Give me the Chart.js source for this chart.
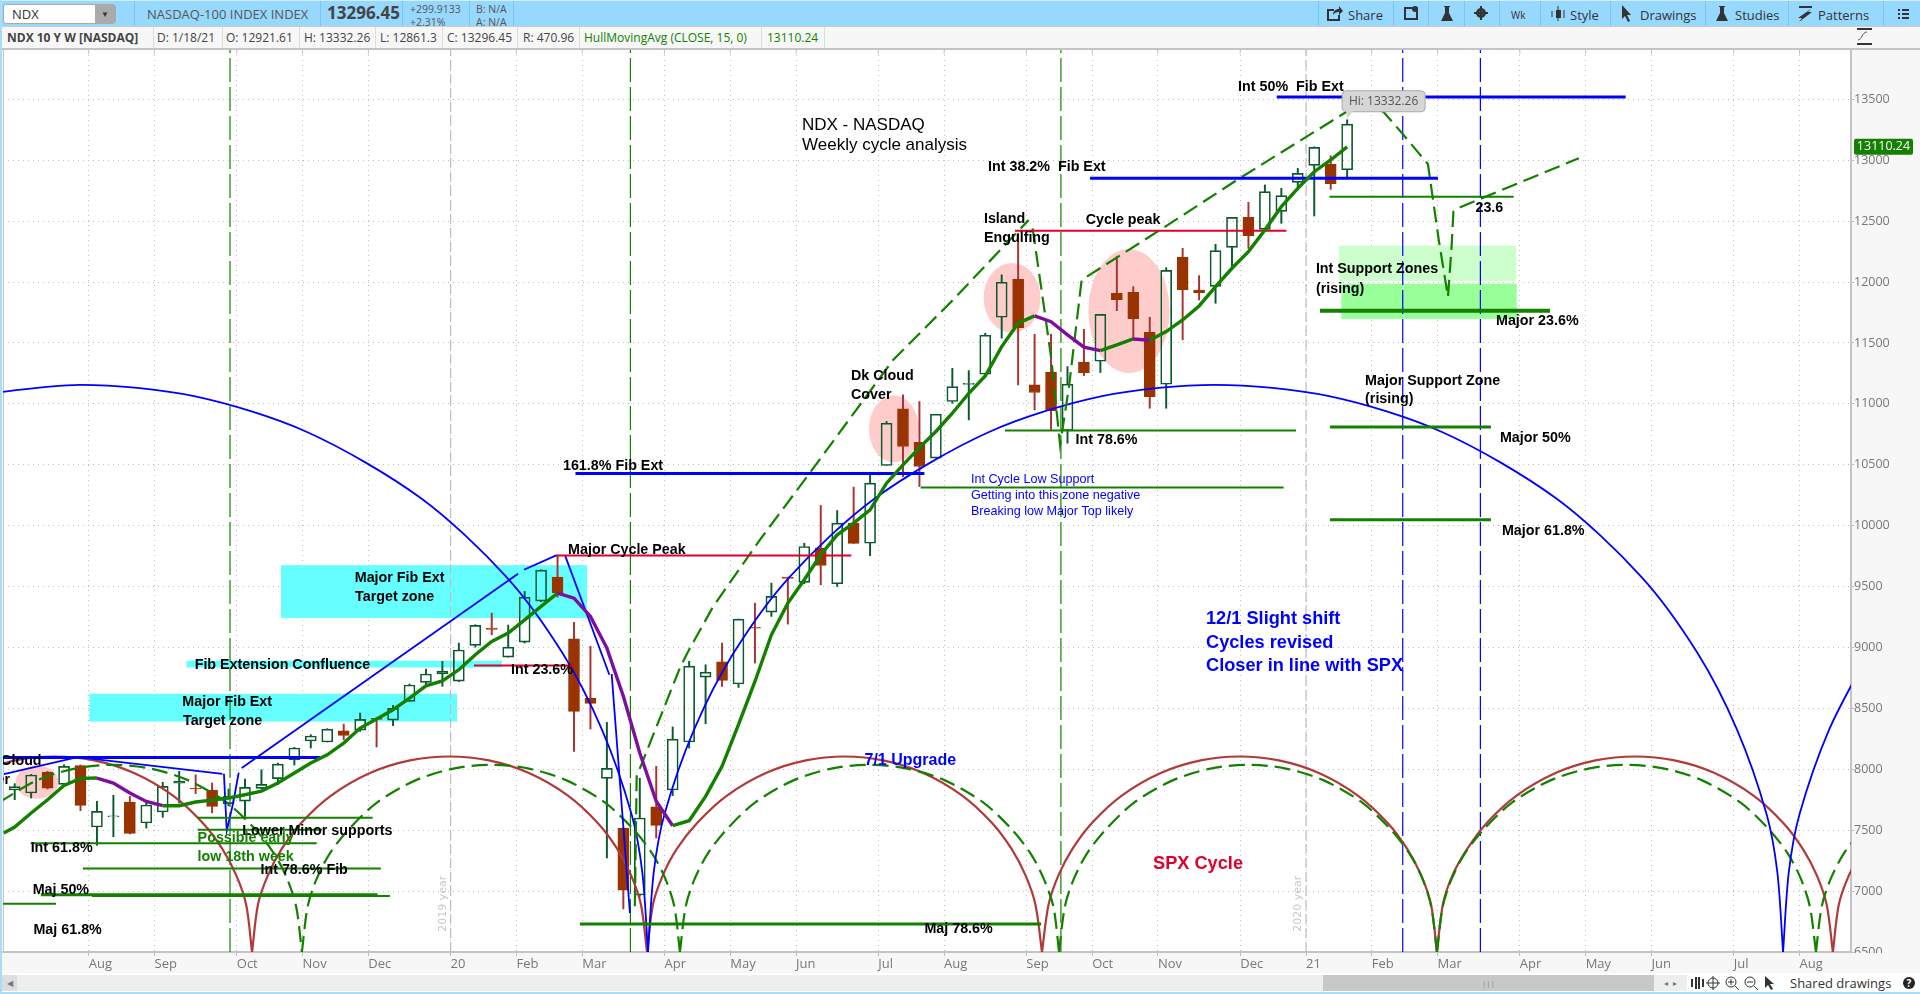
<!DOCTYPE html>
<html>
<head>
<meta charset="utf-8">
<title>NDX weekly cycle analysis</title>
<script src="https://cdn.jsdelivr.net/npm/chart.js@4/dist/chart.umd.min.js"></script>
<style>
  html, body { margin: 0; padding: 0; background: #f7f7f7; overflow: hidden; }
  #wrap { position: relative; width: 1920px; height: 994px; overflow: hidden; font-family: "Open Sans", sans-serif; }
  canvas { position: absolute; left: 0; top: 0; }
  .bar { position: absolute; left: 0; width: 1920px; }
  #top { top: 0; height: 26px; background: #97d8ff; border-top: 1px solid #d2eeff; box-sizing: border-box; }
  #info { top: 26px; height: 24px; background: #f7f7f7; border-top: 1px solid #ccc; border-bottom: 2px solid #c4c4c4; box-sizing: border-box; }
  .t { position: absolute; white-space: nowrap; color: #555; font-size: 13px; line-height: 16px; }
  .sep { position: absolute; width: 1px; top: 0; bottom: 0; background: #7fc6ef; }
  #info .sep { background: #ddd; }
  #info .t { font-size: 12px; top: 3px; color: #444; }
  #tools .t { color: #333; top: 6px; font-size: 13px; }
  #scroll { position: absolute; left: 0; top: 973px; width: 1920px; height: 21px; background: #fff; }
  .frame { position: absolute; background: #a9dcf8; }
  .ic { position: absolute; }
</style>
</head>
<body>
<div id="wrap">
  <canvas id="chart" width="1920" height="994"></canvas>

  <div class="bar" id="top">
    <div style="position:absolute;left:3px;top:3px;width:113px;height:20px;background:#fff;border:1px solid #aaa;border-radius:3px;box-sizing:border-box">
      <span class="t" style="left:8px;top:1px;color:#333">NDX</span>
      <div style="position:absolute;right:0;top:0;width:20px;height:18px;background:#aaa;color:#333;font-size:8px;text-align:center;line-height:18px">&#9660;</div>
    </div>
    <span class="t" style="left:147px;top:5px">NASDAQ-100 INDEX INDEX</span>
    <div class="sep" style="left:134px"></div>
    <div class="sep" style="left:320px"></div>
    <span class="t" style="left:327px;top:4px;font-size:17px;font-weight:700;color:#444">13296.45</span>
    <div class="sep" style="left:402px"></div>
    <span class="t" style="left:410px;top:2px;font-size:10.5px;line-height:13px">+299.9133<br>+2.31%</span>
    <div class="sep" style="left:469px"></div>
    <span class="t" style="left:476px;top:2px;font-size:10.5px;line-height:13px">B: N/A<br>A: N/A</span>
    <div class="sep" style="left:513px"></div>
    <div id="tools"></div>
  </div>

  <div class="bar" id="info"></div>

  <div style="position:absolute;left:1852px;top:953px;width:68px;height:8px;background:#f7f7f7"></div>
  <svg class="ic" style="left:1857px;top:28px" width="16" height="18" viewBox="0 0 16 18"><path d="M0 1h15M0 16h15" stroke="#333" stroke-width="2"/><path d="M1 12c4 0 4-8 9-8" stroke="#555" fill="none"/></svg>

  <div id="scroll">
    <div style="position:absolute;left:0;top:2px;width:1654px;height:16px;background:#eee"></div>
    <div style="position:absolute;left:2px;top:2px;width:15px;height:16px;background:#ddd;color:#777;font-size:8px;line-height:16px;text-align:center">&#9664;</div>
    <div style="position:absolute;left:1323px;top:2px;width:331px;height:16px;background:#c8c8c8;color:#888;font-size:8px;line-height:16px;text-align:center">|||</div>
    <div style="position:absolute;left:1654px;top:2px;width:33px;height:16px;background:#eee;color:#777;font-size:8px;line-height:16px;text-align:center">&#9666; &nbsp;&#9656;</div>
    <svg class="ic" style="left:1690px;top:2px" width="96" height="16" viewBox="0 0 96 16">
      <path d="M2 4v8M6 2v12M9 2v12M13 4v8" stroke="#333" stroke-width="2"/>
      <circle cx="23" cy="8" r="5" fill="none" stroke="#333"/><path d="M23 1v14M16 8h14" stroke="#333"/>
      <circle cx="41" cy="7" r="5" fill="none" stroke="#333"/><path d="M45 11l4 4M38 7h6M41 4v6" stroke="#333"/>
      <circle cx="60" cy="7" r="5" fill="none" stroke="#333"/><path d="M64 11l4 4M57 7h6" stroke="#333"/>
      <path d="M75 1l0 12 3-3 3 5 2-1-3-5 4 0z" fill="#333"/>
    </svg>
    <span class="t" style="left:1790px;top:2px;color:#333">Shared drawings</span>
    <div style="position:absolute;left:1903px;top:4px;width:12px;height:12px;border-radius:6px;background:#222;color:#fff;font-size:10px;line-height:12px;text-align:center;font-weight:700">?</div>
  </div>

  <div class="frame" style="left:0;top:0;width:2px;height:994px"></div>
  <div class="frame" style="left:0;top:992px;width:1920px;height:2px"></div>
</div>

<script>
// bar 0 is the week of 7/22/19, bar 81 is 1/18/21, x axis counts weeks
const opens = [7830,7805,7978,7876,8030,7526,7611,7731,7559,7649,7885,7844,7830,7718,7738,7843,7923,8079,8232,8224,
  8316,8322,8418,8404,8557,8713,8782,8724,9017,9159,8921,9044,9381,9578,9072,8585,7926,7518,6968,7691,
  7830,8224,8757,8883,8700,9165,9290,9578,9534,9815,9523,10021,9856,10494,10959,10685,10554,11019,11160,11243,
  11711,12025,11156,11260,10781,11342,11350,11908,11916,11588,11161,12203,11935,11965,12285,12531,12433,12580,12818,12958,
  12966,12921.61];
const highs = [7882,7958,7983,8038,8035,7737,7786,7778,7745,7893,7983,7955,7887,7838,7920,7996,8051,8180,8284,8333,
  8371,8462,8420,8525,8700,8823,8886,9036,9187,9282,9184,9460,9638,9758,9206,9009,8385,7518,7926,8024,
  8347,8886,8858,9036,9233,9364,9528,9578,9856,10166,10124,10316,10431,10855,11074,11019,10915,11292,11273,11580,
  12059,12400,11571,11572,11306,11612,11735,12209,11962,11711,12118,12277,12053,12310,12531,12654,12797,12769,12933,13110,
  13037,13332.26];
const lows = [7750,7764,7838,7870,7660,7376,7447,7469,7518,7606,7723,7800,7643,7700,7613,7840,7874,8035,8175,8224,
  8243,8311,8183,8358,8557,8700,8681,8719,9003,9104,8921,9036,9375,9414,8147,8330,7272,6854,6957,7436,
  7784,8174,8374,8680,8672,8872,9255,9192,9523,9515,9501,9854,9753,10494,10403,10321,10554,11005,10868,11243,
  11539,11156,10950,10781,10677,11232,11257,11765,11525,10964,10964,11525,11853,11826,12127,12277,12427,12482,12756,12542,
  12761,12861.3];
const closes = [7857,7953,7844,8024,7704,7655,7617,7474,7707,7860,7904,7838,7696,7778,7851,7876,8043,8175,8273,8330,
  8278,8410,8410,8500,8692,8782,8806,8979,9181,9148,9003,9414,9635,9449,8475,8541,8008,7007,7600,7540,
  8248,8847,8798,8730,9233,9159,9419,9567,9829,9673,10021,9854,10349,10841,10650,10486,10915,11142,11168,11563,
  11998,11626,11093,10945,11162,11257,11735,11856,11700,11060,12096,11938,11913,12258,12531,12381,12742,12709,12892,13106,
  12808,13296.45];

// hull moving average, falling stretches get coloured purple
const hullLead = [-0.66, 7477];
const hull = [7526,7641,7750,7868,7925,7928,7887,7805,7736,7701,7701,7731,7747,7764,7791,7821,7887,7969,8051,8119,
  8215,8338,8412,8489,8584,8685,8726,8817,8940,9049,9118,9227,9337,9446,9405,9255,8995,8599,8134,7737,
  7537,7578,7778,8024,8366,8721,9104,9364,9556,9761,9925,10021,10130,10349,10499,10641,10773,10923,11087,11229,
  11470,11662,11722,11675,11566,11465,11437,11484,11533,11522,11593,11689,11804,11962,12113,12250,12427,12619,12769,12906,
  13002,13110.24];

const priceTicks = [6500,7000,7500,8000,8500,9000,9500,10000,10500,11000,11500,12000,12500,13000,13500];
const monthTicks = [4.5,8.5,13.5,17.5,21.5,26.5,30.5,34.5,39.5,43.5,47.5,52.5,56.5,61.5,65.5,69.5,74.5,78.5,82.5,86.5,91.5,95.5,99.5,104.5,108.5];
const monthLabels = ['Aug','Sep','Oct','Nov','Dec','20','Feb','Mar','Apr','May','Jun','Jul','Aug','Sep','Oct','Nov','Dec','21','Feb','Mar','Apr','May','Jun','Jul','Aug'];

// cycle arcs, [week, price]
const redArcs = [
  [[-2.38,7971],[0.02,8073],[2.42,8105],[4.82,8073],[7.22,7971],[9.62,7784],[11.42,7561],[12.62,7346],[13.47,7129],[14.07,6890],[14.43,6500]],
  [[14.43,6500],[14.79,6890],[15.39,7129],[16.23,7346],[17.43,7561],[19.23,7784],[21.63,7971],[24.03,8073],[26.43,8105],[28.83,8073],[31.23,7971],[33.63,7784],[35.43,7561],[36.63,7346],[37.47,7129],[38.07,6890],[38.44,6500]],
  [[38.44,6500],[38.8,6890],[39.4,7129],[40.25,7346],[41.5,7561],[43.3,7784],[45.7,7971],[48.1,8073],[50.45,8105],[52.8,8073],[55.2,7971],[57.6,7784],[59.4,7561],[60.6,7346],[61.45,7129],[62.05,6890],[62.45,6500]],
  [[62.45,6500],[62.85,6890],[63.45,7129],[64.3,7346],[65.5,7561],[67.3,7784],[69.7,7971],[72.1,8073],[74.45,8105],[76.85,8073],[79.25,7971],[81.65,7784],[83.45,7561],[84.65,7346],[85.5,7129],[86.1,6890],[86.46,6500]],
  [[86.46,6500],[86.82,6890],[87.4,7129],[88.3,7346],[89.5,7561],[91.3,7784],[93.7,7971],[96.1,8073],[98.5,8105],[100.9,8073],[103.3,7971],[105.7,7784],[107.5,7561],[108.7,7346],[109.55,7129],[110.15,6890],[110.53,6500]],
  [[110.53,6500],[110.89,6890],[111.5,7129],[112.35,7346]]
];
const greenArcs = [
  [[-0.94,7730],[1.36,7909],[3.66,8006],[5.96,8037],[8.26,8006],[10.56,7909],[12.86,7730],[14.56,7516],[15.76,7310],[16.56,7102],[17.11,6873],[17.46,6500]],
  [[17.46,6500],[17.81,6873],[18.36,7102],[19.16,7310],[20.36,7516],[22.06,7730],[24.36,7909],[26.66,8006],[28.95,8037],[31.25,8006],[33.55,7909],[35.85,7730],[37.55,7516],[38.75,7310],[39.55,7102],[40.1,6873],[40.44,6500]],
  [[40.44,6500],[40.79,6873],[41.34,7102],[42.14,7310],[43.34,7516],[45.04,7730],[47.34,7909],[49.64,8006],[51.95,8037],[54.25,8006],[56.55,7909],[58.85,7730],[60.55,7516],[61.75,7310],[62.55,7102],[63.14,6873],[63.49,6500]],
  [[63.49,6500],[63.84,6873],[64.39,7102],[65.19,7310],[66.39,7516],[68.09,7730],[70.39,7909],[72.69,8006],[74.98,8037],[77.28,8006],[79.58,7909],[81.88,7730],[83.58,7516],[84.78,7310],[85.58,7102],[86.11,6873],[86.46,6500]],
  [[86.46,6500],[86.81,6873],[87.36,7102],[88.16,7310],[89.36,7516],[91.06,7730],[93.36,7909],[95.66,8006],[97.98,8037],[100.28,8006],[102.58,7909],[104.88,7730],[106.58,7516],[107.78,7310],[108.58,7102],[109.13,6873],[109.5,6500]],
  [[109.5,6500],[109.85,6873],[110.4,7102],[111.2,7310],[112.4,7516]]
];
const blueArcs = [
  [[-2.9,11063],[4,11156],[10.9,11063],[17.8,10767],[24.7,10225],[29.9,9578],[33.3,8954],[35.7,8325],[37.5,7631],[38.15,7157],[38.5,6500]],
  [[38.5,6500],[38.85,7157],[39.5,7631],[41.3,8325],[43.7,8954],[47.1,9578],[52.3,10225],[59.2,10767],[66.1,11063],[73,11156],[79.9,11063],[86.8,10767],[93.7,10225],[98.9,9578],[102.3,8954],[104.7,8325],[106.5,7631],[107.15,7157],[107.5,6500]],
  [[107.5,6500],[107.85,7157],[108.5,7631],[110.3,8325],[112.7,8954]]
];

// hand drawn paths
const bluePaths = [
  [[-0.65,7961],[3.82,8100],[12.63,7963]],
  [[12.72,7963],[12.89,7496],[13.27,7717],[13.62,7972]],
  [[13.8,8010],[30.6,9605]],
  [[30.96,9638],[32.95,9758]],
  [[33.45,9758],[36.15,8776]],
  [[36.29,8782],[37.4,6820]]
];
const forecastPath = [[37.7,6875],[37.81,7941],[40.44,8833],[40.93,8965],[42.45,9334],[45.3,9884],[48.16,10401],[53.4,11361],[57.04,11853],[61.64,12510]];
const forecastPath2 = [[61.88,12441],[62.51,11853],[63,11385],[63.55,10663],[64.09,11139],[64.86,12017],[69.62,12427],[74.49,12854],[80.97,13398],[82,13470],[83.2,13398],[84.33,13223],[85.91,12969],[86.57,12346],[87.13,11880],[87.35,12290],[87.46,12578],[87.74,12607],[95.08,13016]];

// level lines, [from week, to week, price]
const blueLevels = [[-0.71,18.56,8097],[34.09,55.3,10428],[65.37,86.52,12852],[76.72,97.93,13519]];
const redLevels = [[32.95,50.86,9755],[27.92,34,8852],[60.81,77.31,12422]];
const greenLevels = [[11.12,21.76,7602],[11.12,18.68,7504],[0.97,18.36,7392],[4.15,22.26,7186],[4.7,22.81,6960],[-0.71,2.51,6897],[60.2,77.89,10781],[55.08,77.14,10313],[79.93,91.12,12701]];
const greenHeavyLevels = [[1.59,22.06,6970],[34.36,62.4,6730],[79.96,89.74,10811],[79.96,89.74,10048]];
const majorLevel = [[79.35,93.33,11765]];

const greenCycleWeeks = [13.09,37.43,63.6];
const blueCycleWeeks = [84.38,89.1];
const yearWeeks = [26.5,78.5];

// zones, [from week, to week, top price, bottom price]
const cyanZones = [[4.54,26.89,8620,8392],[10.44,29.62,8891,8836],[16.19,34.79,9676,9241]];
const lightGreenZone = [80.5,91.27,12299,12009];
const greenZone = [80.65,91.31,11987,11697];
// pink patterns, [week, half width, price, half height]
const pinkEllipses = [[1.36,1.3,7895,137],[53.45,1.52,10795,275],[60.63,1.73,11870,287],[67.74,2.47,11763,509]];

const blackNotes = [
  ['Dark Cloud',-3,8064],['Cover',-2.75,7908],['Int 61.8%',0.97,7356],['Maj 50%',1.09,7011],['Maj 61.8%',1.14,6683],
  ['Major Fib Ext',10.19,8554],['Target zone',10.23,8398],['Fib Extension Confluence',10.94,8858],['Int 23.6%',30.17,8811],
  ['Lower Minor supports',13.84,7493],['Int 78.6% Fib',14.94,7176],['Major Fib Ext',20.67,9572],['Target zone',20.69,9413],
  ['Major Cycle Peak',33.64,9802],['Dk Cloud',50.84,11229],['Cover',50.84,11073],['Island',58.92,12515],['Engulfing',58.92,12359],
  ['Cycle peak',65.11,12510],['Int 78.6%',64.49,10704],['161.8% Fib Ext',33.33,10487],['Int 38.2%  Fib Ext',59.17,12944],
  ['Int 50%  Fib Ext',74.37,13601],['23.6',88.8,12606],['Int Support Zones',79.1,12105],['(rising)',79.1,11946],
  ['Major 23.6%',90.05,11681],['Major Support Zone',82.09,11188],['(rising)',82.09,11041],['Major 50%',90.29,10717],['Major 61.8%',90.41,9954],
  ['Maj 78.6%',55.3,6687]
];
const greenNotes = [['Possible early',11.12,7436],['low 18th week',11.12,7280]];
const titleNotes = [['NDX - NASDAQ',47.86,13289],['Weekly cycle analysis',47.86,13119]];
const smallBlueNotes = [['Int Cycle Low Support',58.13,10382],['Getting into this zone negative',58.13,10247],['Breaking low Major Top likely',58.13,10116]];
const blueNotes = [['12/1 Slight shift',72.42,9230],['Cycles revised',72.42,9038],['Closer in line with SPX',72.42,8850]];
const upgradeNote = [['7/1 Upgrade',51.66,8073]];
const spxNote = [['SPX Cycle',69.2,7220]];
const yearNotes = [['2019 year',26.03,6896],['2020 year',78,6896]];

const infoCells = [
  ['NDX 10 Y W [NASDAQ]',7,153],['D: 1/18/21',157,222],['O: 12921.61',226,299],['H: 13332.26',304,375],['L: 12861.3',380,442],
  ['C: 13296.45',447,517],['R: 470.96',523,579],['HullMovingAvg (CLOSE, 15, 0)',584,761],['13110.24',767,824]
];
const toolItems = [['Share',1348,1318],['',0,1393],['',0,1428],['',0,1464],['Wk',1511,1499],['Style',1570,1540],['Drawings',1640,1610],['Studies',1735,1705],['Patterns',1818,1788],['',0,1883]];

const COL_UP = '#0b5a2e', COL_DOWN = '#993300', COL_WICK = '#a83232';
const COL_GREEN = '#138000', COL_PURPLE = '#7d0f9e', COL_CRIMSON = '#e0002d', COL_BLUE = '#0000ff', COL_ARC = '#b03a3a';

// top bars
const infoBar = document.getElementById('info');
infoCells.forEach((c, i) => {
  const s = document.createElement('span');
  s.className = 't';
  s.textContent = c[0];
  s.style.left = c[1] + 'px';
  if (i === 0) s.style.fontWeight = '700';
  if (i >= 7) s.style.color = '#138000';
  infoBar.appendChild(s);
  const d = document.createElement('div');
  d.className = 'sep';
  d.style.left = c[2] + 'px';
  infoBar.appendChild(d);
});
const tools = document.getElementById('tools');
toolItems.forEach(c => {
  const d = document.createElement('div');
  d.className = 'sep';
  d.style.left = c[2] + 'px';
  tools.appendChild(d);
  if (c[0]) {
    const s = document.createElement('span');
    s.className = 't';
    s.textContent = c[0];
    s.style.left = c[1] + 'px';
    if (c[0] === 'Wk') s.style.fontSize = '10px';
    tools.appendChild(s);
  }
});
tools.insertAdjacentHTML('beforeend', `<svg class="ic" style="left:0;top:0" width="1920" height="25" viewBox="0 0 1920 25" fill="#333">
  <path d="M1327 8h7v2h-5v8h9v-4h2v6h-13z"/><path d="M1333 14c0-4 3-6 6-6v-3l4 5-4 4v-3c-3 0-5 1-6 3z"/>
  <rect x="1405" y="7" width="12" height="11" fill="none" stroke="#333" stroke-width="2"/><circle cx="1415" cy="8" r="3"/>
  <path d="M1444 5h6v1h-1v6l4 8h-12l4-8v-6h-1z"/><circle cx="1481" cy="12" r="5"/><circle cx="1481" cy="12" r="2" fill="#97d8ff"/><path d="M1480 5h2v14h-2zM1474 11h14v2h-14z"/>
  <rect x="1556" y="9" width="5" height="8"/><path d="M1558 5v15" stroke="#333"/><path d="M1564 9v8M1552 10v6" stroke="#333"/>
  <path d="M1622 4v14l3-3 3 6 2-1-3-6 4 0z"/>
  <path d="M1719 5h6v1h-1v6l4 8h-12l4-8v-6h-1z"/>
  <path d="M1799 5h13v2h-13zM1799 21l13-10-4 0 3-3-13 9 4 0z"/>
  <path d="M1898 8h2v2h-2zM1902 8h7v2h-7zM1898 12h2v2h-2zM1902 12h7v2h-7zM1898 16h2v2h-2zM1902 16h7v2h-7z"/></svg>`);

function lineDs(points, color, width, dash, order, tension) {
  return {
    type: 'line',
    data: points.map(p => ({ x: p[0], y: p[1] })),
    borderColor: color,
    borderWidth: width,
    borderDash: dash || [],
    pointRadius: 0,
    fill: false,
    tension: tension || 0,
    order: order
  };
}
const levelDs = (l, color, width, order) => lineDs([[l[0], l[2]], [l[1], l[2]]], color, width, [], order);
const verticalDs = (week, color, dash) => lineDs([[week, 6500], [week, 13905]], color, 1.2, dash, 12);

const isUp = i => closes[i] >= opens[i];
const weekIdx = opens.map((_, i) => i);

const datasets = [
  // velas: mecha arriba, mecha abajo, cuerpo
  { type: 'bar', data: weekIdx.map(i => ({ x: i, y: [Math.max(opens[i], closes[i]), highs[i]] })), backgroundColor: weekIdx.map(i => isUp(i) ? COL_UP : COL_WICK), borderWidth: 0, barThickness: 1.3, grouped: false, order: 21 },
  { type: 'bar', data: weekIdx.map(i => ({ x: i, y: [lows[i], Math.min(opens[i], closes[i])] })), backgroundColor: weekIdx.map(i => isUp(i) ? COL_UP : COL_WICK), borderWidth: 0, barThickness: 1.3, grouped: false, order: 21 },
  { type: 'bar', data: weekIdx.map(i => ({ x: i, y: [opens[i], closes[i]] })), backgroundColor: weekIdx.map(i => isUp(i) ? 'rgba(0,0,0,0)' : COL_DOWN), borderColor: weekIdx.map(i => isUp(i) ? COL_UP : COL_DOWN), borderWidth: 1, borderSkipped: false, barThickness: 11, grouped: false, order: 20 }
];
yearWeeks.forEach(w => datasets.push(verticalDs(w, '#bdbdbd', [10, 4])));
greenCycleWeeks.forEach(w => datasets.push(verticalDs(w, COL_GREEN, [24, 5])));
blueCycleWeeks.forEach(w => datasets.push(verticalDs(w, COL_BLUE, [24, 5])));
redArcs.forEach(a => datasets.push(lineDs(a, COL_ARC, 2.2, [], 9, 0.3)));
greenArcs.forEach(a => datasets.push(lineDs(a, COL_GREEN, 2.2, [16, 7], 8, 0.3)));
blueArcs.forEach(a => datasets.push(lineDs(a, COL_BLUE, 1.8, [], 7, 0.3)));
bluePaths.forEach(p => datasets.push(lineDs(p, COL_BLUE, 1.8, [], 6)));
datasets.push(lineDs(forecastPath, COL_GREEN, 2.2, [16, 7], 6));
datasets.push(lineDs(forecastPath2, COL_GREEN, 2.2, [16, 7], 6));
greenLevels.forEach(l => datasets.push(levelDs(l, COL_GREEN, 2, 5)));
greenHeavyLevels.forEach(l => datasets.push(levelDs(l, COL_GREEN, 3, 5)));
majorLevel.forEach(l => datasets.push(levelDs(l, COL_GREEN, 4, 5)));
redLevels.forEach(l => datasets.push(levelDs(l, COL_CRIMSON, 2, 5)));
blueLevels.forEach(l => datasets.push(levelDs(l, COL_BLUE, 3, 5)));
const hullDs = lineDs([hullLead].concat(hull.map((v, i) => [i, v])), COL_GREEN, 3.4, [], 3);
hullDs.segment = { borderColor: ctx => ctx.p1.parsed.y < ctx.p0.parsed.y ? COL_PURPLE : COL_GREEN };
datasets.push(hullDs);

// zonas y elipses debajo de las velas, textos encima
const drawings = {
  id: 'drawings',
  beforeDraw(chart) {
    const a = chart.chartArea, c = chart.ctx;
    c.save();
    c.fillStyle = '#fff';
    c.fillRect(a.left, a.top, a.right - a.left, a.bottom - a.top);
    c.restore();
  },
  beforeDatasetsDraw(chart) {
    const a = chart.chartArea, c = chart.ctx, x = chart.scales.x, y = chart.scales.y;
    c.save();
    c.beginPath();
    c.rect(a.left, a.top, a.right - a.left, a.bottom - a.top);
    c.clip();
    const zone = (z, color) => {
      c.fillStyle = color;
      c.fillRect(x.getPixelForValue(z[0]), y.getPixelForValue(z[2]), x.getPixelForValue(z[1]) - x.getPixelForValue(z[0]), y.getPixelForValue(z[3]) - y.getPixelForValue(z[2]));
    };
    cyanZones.forEach(z => zone(z, '#66ffff'));
    zone(lightGreenZone, '#ccffcc');
    zone(greenZone, '#99ff99');
    c.fillStyle = '#ffcccc';
    pinkEllipses.forEach(e => {
      const cx = x.getPixelForValue(e[0]), cy = y.getPixelForValue(e[2]);
      c.beginPath();
      c.ellipse(cx, cy, x.getPixelForValue(e[0] + e[1]) - cx, cy - y.getPixelForValue(e[2] + e[3]), 0, 0, Math.PI * 2);
      c.fill();
    });
    c.restore();
    // left edge of the plot and the short marks on top
    c.save();
    c.strokeStyle = '#c4c4c4';
    c.lineWidth = 1;
    c.beginPath();
    c.moveTo(a.left + 0.5, a.top);
    c.lineTo(a.left + 0.5, a.bottom);
    monthTicks.forEach(t => {
      const px = x.getPixelForValue(t);
      c.moveTo(px, a.top);
      c.lineTo(px, a.top + 4);
    });
    c.stroke();
    c.restore();
  },
  afterDatasetsDraw(chart) {
    const a = chart.chartArea, c = chart.ctx, x = chart.scales.x, y = chart.scales.y;
    c.save();
    c.beginPath();
    c.rect(a.left, a.top, a.right - a.left, a.bottom - a.top);
    c.clip();
    c.textBaseline = 'middle';
    const notes = (list, font, color) => {
      c.font = font;
      c.fillStyle = color;
      list.forEach(n => c.fillText(n[0], x.getPixelForValue(n[1]), y.getPixelForValue(n[2])));
    };
    notes(blackNotes, 'bold 14.3px "Liberation Sans"', '#000');
    notes(greenNotes, 'bold 14.3px "Liberation Sans"', '#138000');
    notes(titleNotes, '17px "Liberation Sans"', '#000');
    notes(smallBlueNotes, '12.6px "Liberation Sans"', COL_BLUE);
    notes(blueNotes, 'bold 18.2px "Liberation Sans"', COL_BLUE);
    notes(upgradeNote, 'bold 16px "Liberation Sans"', COL_BLUE);
    notes(spxNote, 'bold 18.2px "Liberation Sans"', COL_CRIMSON);

    c.font = '11px "DejaVu Sans"';
    c.fillStyle = '#c8c8c8';
    c.textAlign = 'center';
    yearNotes.forEach(n => {
      c.save();
      c.translate(x.getPixelForValue(n[1]), y.getPixelForValue(n[2]));
      c.rotate(-Math.PI / 2);
      c.fillText(n[0], 0, 0);
      c.restore();
    });

    // callout on the high of the last bar
    const last = highs.length - 1;
    const hx = x.getPixelForValue(last), hy = y.getPixelForValue(highs[last]);
    c.fillStyle = '#d6d6d6';
    c.strokeStyle = '#aaa';
    c.beginPath();
    c.roundRect(hx - 5, hy - 29, 83, 21, 4);
    c.fill();
    c.stroke();
    c.beginPath();
    c.moveTo(hx - 1, hy - 9);
    c.lineTo(hx, hy - 1);
    c.lineTo(hx + 6, hy - 9);
    c.closePath();
    c.fill();
    c.fillStyle = '#555';
    c.font = '12px "Open Sans"';
    c.textAlign = 'center';
    c.fillText('Hi: ' + highs[last].toFixed(2), hx + 36.5, hy - 18.5);
    c.restore();

    // last value tag of the hull average
    const tagY = y.getPixelForValue(hull[last]);
    c.save();
    c.fillStyle = COL_GREEN;
    c.beginPath();
    c.roundRect(a.right + 3, tagY - 8, 59, 16, 2);
    c.fill();
    c.fillStyle = '#fff';
    c.font = '12.5px "Open Sans"';
    c.textAlign = 'center';
    c.textBaseline = 'middle';
    c.fillText(hull[last].toFixed(2), a.right + 32.5, tagY);
    c.restore();
  }
};

new Chart(document.getElementById('chart'), {
  type: 'bar',
  data: { datasets: datasets },
  plugins: [drawings],
  options: {
    responsive: false,
    animation: false,
    layout: { padding: { left: 3, top: 50, right: 0, bottom: 0 } },
    plugins: { legend: { display: false }, tooltip: { enabled: false } },
    events: [],
    scales: {
      x: {
        type: 'linear',
        offset: false,
        min: -0.711,
        max: 111.63,
        afterFit: s => { s.height = 42; },
        afterBuildTicks: s => { s.ticks = monthTicks.map(v => ({ value: v })); },
        grid: { offset: false, color: '#bdbdbd', tickColor: '#bdbdbd', tickLength: 4, tickBorderDash: [] },
        border: { color: '#c4c4c4', width: 2, dash: [1, 4] },
        ticks: {
          autoSkip: false,
          maxRotation: 0,
          minRotation: 0,
          align: 'start',
          padding: 0,
          color: '#777',
          font: { family: '"Open Sans"', size: 13 },
          callback: (v, i) => monthLabels[i]
        }
      },
      y: {
        position: 'right',
        min: 6500,
        max: 13905,
        afterFit: s => { s.width = 69; },
        afterBuildTicks: s => { s.ticks = priceTicks.map(v => ({ value: v })); },
        grid: { color: '#bdbdbd', tickColor: '#bdbdbd', tickLength: 3, tickBorderDash: [] },
        border: { color: '#c4c4c4', width: 2, dash: [1, 4] },
        ticks: {
          padding: 0,
          color: '#777',
          font: { family: '"Open Sans"', size: 12.5 },
          callback: v => String(v)
        }
      }
    }
  }
});
</script>
</body>
</html>
